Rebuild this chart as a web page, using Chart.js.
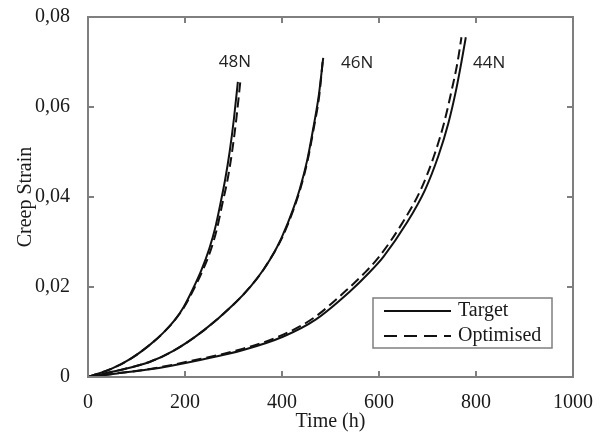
<!DOCTYPE html>
<html lang="en">
<head>
    <meta charset="UTF-8">
    <title>Creep Strain</title>
    <script src="https://cdn.jsdelivr.net/npm/chart.js"></script>
    <style>
        html, body { margin: 0; padding: 0; background: #fff; }
        #wrap { width: 602px; height: 434px; }
    </style>
</head>
<body>
    <div id="wrap"><canvas id="creep-chart" width="602" height="434"></canvas></div>

    <script>
        // values
        const xTicks = [0, 200, 400, 600, 800, 1000];
        const yTicks = [0, 0.02, 0.04, 0.06, 0.08];
        const loadLabels = ['48N', '46N', '44N'];
        const loadLabelX = [303, 555, 827];
        const loadLabelY = [0.0700, 0.0698, 0.0698];

        const t48Target = [0, 50, 90, 128, 155, 180, 197, 216, 234, 250, 262, 273, 283, 292, 301, 309];
        const s48Target = [0, 0.0019, 0.0042, 0.0072, 0.0098, 0.0128, 0.0155, 0.0195, 0.0238, 0.0285, 0.0330, 0.0385, 0.0440, 0.0500, 0.0575, 0.0656];
        const t48Opt = [0, 50, 90, 128, 155, 180, 198, 218, 237, 254, 266, 277, 288, 297, 306, 314];
        const s48Opt = [0, 0.0019, 0.0042, 0.0072, 0.0098, 0.0128, 0.0155, 0.0195, 0.0238, 0.0285, 0.0330, 0.0385, 0.0440, 0.0500, 0.0575, 0.0656];

        const t46Target = [0, 60, 128, 176, 238, 300, 335, 362, 385, 399, 423, 437, 452, 464, 476, 485];
        const s46Target = [0, 0.0014, 0.0034, 0.0058, 0.0103, 0.0161, 0.0201, 0.0239, 0.0279, 0.0309, 0.0373, 0.0419, 0.0482, 0.0550, 0.0627, 0.0709];
        const t46Opt = [0, 60, 128, 176, 238, 300, 335, 362, 385, 400, 424, 438, 453, 465, 477, 484];
        const s46Opt = [0, 0.0014, 0.0034, 0.0058, 0.0103, 0.0161, 0.0201, 0.0239, 0.0279, 0.0309, 0.0373, 0.0419, 0.0482, 0.0550, 0.0627, 0.0703];

        const t44Target = [0, 60, 128, 231, 320, 403, 470, 540, 578, 609, 657, 695, 722, 743, 759, 770, 779];
        const s44Target = [0, 0.0008, 0.0017, 0.0038, 0.0060, 0.0090, 0.0128, 0.0190, 0.0230, 0.0267, 0.0342, 0.0416, 0.0490, 0.0564, 0.0638, 0.0700, 0.0755];
        const t44Opt = [0, 60, 128, 231, 320, 400, 465, 532, 569, 600, 648, 686, 713, 734, 750, 762, 770];
        const s44Opt = [0, 0.0008, 0.0018, 0.0040, 0.0063, 0.0093, 0.0131, 0.0192, 0.0230, 0.0267, 0.0342, 0.0416, 0.0490, 0.0564, 0.0638, 0.0700, 0.0755];

        const serif = '"Liberation Serif", "Times New Roman", serif';
        const frameColor = '#7f7f7f';
        const inkColor = '#1a1a1a';

        function pts(ts, ss) {
            return ts.map((t, i) => ({ x: t, y: ss[i] }));
        }

        function curve(label, ts, ss, dashed) {
            return {
                label: label,
                data: pts(ts, ss),
                showLine: true,
                borderColor: '#111',
                borderWidth: 2,
                borderDash: dashed ? [10, 5] : [],
                pointRadius: 0,
                cubicInterpolationMode: 'monotone',
                fill: false
            };
        }

        // scale label padding would otherwise push the plot area in
        function noPad(s) {
            s.paddingTop = 0; s.paddingBottom = 0; s.paddingLeft = 0; s.paddingRight = 0;
        }

        // frame with inward ticks, load labels and legend box
        const decorPlugin = {
            id: 'decor',
            afterDatasetsDraw(chart) {
                const ctx = chart.ctx;
                const a = chart.chartArea;
                const xs = chart.scales.x;
                const ys = chart.scales.y;
                const tl = 6;

                ctx.save();
                ctx.strokeStyle = frameColor;
                ctx.lineWidth = 2;
                ctx.beginPath();
                xTicks.forEach(v => {
                    const px = xs.getPixelForValue(v);
                    ctx.moveTo(px, a.bottom); ctx.lineTo(px, a.bottom - tl);
                    ctx.moveTo(px, a.top); ctx.lineTo(px, a.top + tl);
                });
                yTicks.forEach(v => {
                    const py = ys.getPixelForValue(v);
                    ctx.moveTo(a.left, py); ctx.lineTo(a.left + tl, py);
                    ctx.moveTo(a.right, py); ctx.lineTo(a.right - tl, py);
                });
                ctx.stroke();
                ctx.strokeRect(a.left, a.top, a.right - a.left, a.bottom - a.top);

                // load labels
                ctx.fillStyle = '#222';
                ctx.font = '17px "Open Sans", sans-serif';
                ctx.textAlign = 'center';
                ctx.textBaseline = 'middle';
                loadLabels.forEach((txt, i) => {
                    ctx.fillText(txt, xs.getPixelForValue(loadLabelX[i]), ys.getPixelForValue(loadLabelY[i]));
                });

                // legend
                const bw = 179, bh = 50;
                const bx = a.right - 21 - bw;
                const by = a.bottom - 29 - bh;
                ctx.fillStyle = '#fff';
                ctx.fillRect(bx, by, bw, bh);
                ctx.lineWidth = 1.5;
                ctx.strokeStyle = frameColor;
                ctx.strokeRect(bx, by, bw, bh);

                const items = [chart.data.datasets[0], chart.data.datasets[1]];
                ctx.font = '20px ' + serif;
                ctx.textAlign = 'left';
                items.forEach((ds, i) => {
                    const ly = by + 13 + i * 25;
                    ctx.strokeStyle = '#111';
                    ctx.lineWidth = 2;
                    ctx.setLineDash(ds.borderDash.length ? [13, 7] : []);
                    ctx.beginPath();
                    ctx.moveTo(bx + 11, ly);
                    ctx.lineTo(bx + 78, ly);
                    ctx.stroke();
                    ctx.setLineDash([]);
                    ctx.fillStyle = inkColor;
                    ctx.fillText(ds.label, bx + 85, ly);
                });
                ctx.restore();
            }
        };

        const ctx = document.getElementById('creep-chart').getContext('2d');
        new Chart(ctx, {
            type: 'scatter',
            data: {
                datasets: [
                    curve('Target', t48Target, s48Target, false),
                    curve('Optimised', t48Opt, s48Opt, true),
                    curve('Target 46N', t46Target, s46Target, false),
                    curve('Optimised 46N', t46Opt, s46Opt, true),
                    curve('Target 44N', t44Target, s44Target, false),
                    curve('Optimised 44N', t44Opt, s44Opt, true)
                ]
            },
            options: {
                responsive: false,
                animation: false,
                devicePixelRatio: 1,
                layout: { autoPadding: false, padding: { top: 17, right: 29, bottom: 0, left: 0 } },
                plugins: {
                    legend: { display: false },
                    tooltip: { enabled: false }
                },
                scales: {
                    x: {
                        type: 'linear',
                        min: 0,
                        max: 1000,
                        afterFit: s => { s.height = 57; noPad(s); },
                        afterBuildTicks: s => { s.ticks = xTicks.map(v => ({ value: v })); },
                        grid: { display: false, drawTicks: false },
                        border: { display: false },
                        ticks: {
                            padding: 14,
                            color: inkColor,
                            font: { family: serif, size: 20 },
                            maxRotation: 0,
                            callback: v => String(v)
                        },
                        title: {
                            display: true,
                            text: 'Time (h)',
                            color: inkColor,
                            font: { family: serif, size: 20 },
                            padding: { top: 0, bottom: 0 }
                        }
                    },
                    y: {
                        type: 'linear',
                        min: 0,
                        max: 0.08,
                        afterFit: s => { s.width = 88; noPad(s); },
                        afterBuildTicks: s => { s.ticks = yTicks.map(v => ({ value: v })); },
                        grid: { display: false, drawTicks: false },
                        border: { display: false },
                        ticks: {
                            padding: 18,
                            color: inkColor,
                            font: { family: serif, size: 20 },
                            callback: v => v === 0 ? '0' : v.toFixed(2).replace('.', ',')
                        },
                        title: {
                            display: true,
                            text: 'Creep Strain',
                            color: inkColor,
                            font: { family: serif, size: 20 },
                            padding: { top: 14, bottom: 0 }
                        }
                    }
                }
            },
            plugins: [decorPlugin]
        });
    </script>
</body>
</html>
